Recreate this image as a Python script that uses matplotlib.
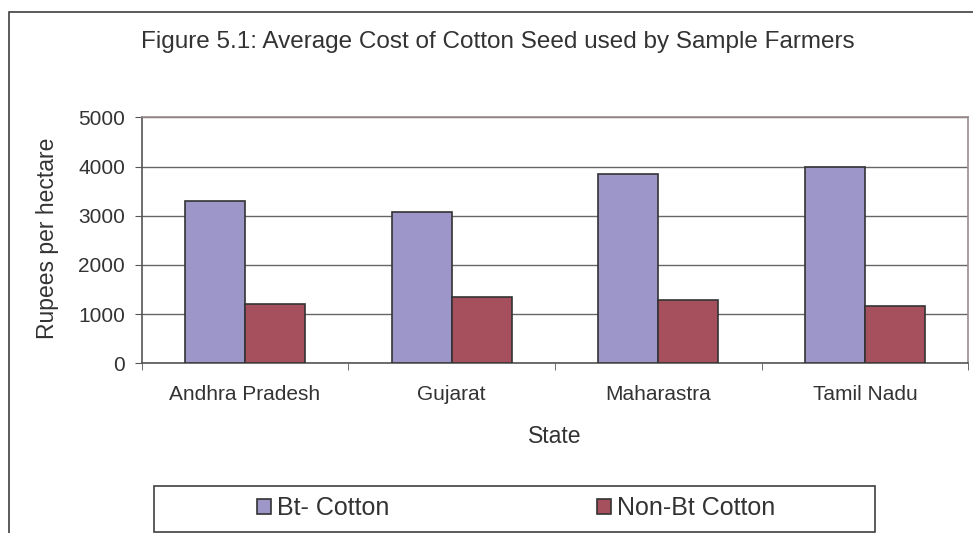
import matplotlib
matplotlib.use("Agg")
import matplotlib.pyplot as plt
from matplotlib.patches import Rectangle
import numpy as np

states = ["Andhra Pradesh", "Gujarat", "Maharastra", "Tamil Nadu"]
bt_cotton = [3290, 3080, 3850, 3980]
non_bt_cotton = [1210, 1340, 1290, 1170]
series_names = ["Bt- Cotton", "Non-Bt Cotton"]
y_ticks = [0, 1000, 2000, 3000, 4000, 5000]

plt.rcParams["font.family"] = ["Liberation Sans", "DejaVu Sans"]
text_col = "#333333"
W, H = 973, 533

fig = plt.figure(figsize=(W / 100, H / 100), dpi=100)
ax = fig.add_axes([141.7 / W, 1 - 363.3 / H, (968.3 - 141.7) / W, (363.3 - 117.3) / H])

x = np.arange(len(states))
bw = 0.29
ax.bar(x - bw / 2, bt_cotton, bw, color="#9D97C9", edgecolor="#333333", linewidth=1.2,
       label=series_names[0], zorder=3)
ax.bar(x + bw / 2, non_bt_cotton, bw, color="#A5505C", edgecolor="#333333", linewidth=1.2,
       label=series_names[1], zorder=3)

ax.set_xlim(-0.5, len(states) - 0.5)
ax.set_ylim(0, 5000)
ax.set_yticks(y_ticks)
ax.set_yticklabels([str(v) for v in y_ticks], fontsize=15, color=text_col)
ax.set_xticks(x)
ax.set_xticklabels(states, fontsize=15, color=text_col)
ax.set_xticks(np.arange(-0.5, len(states)), minor=True)
ax.tick_params(axis="x", which="major", length=0, pad=15.5)
ax.tick_params(axis="x", which="minor", length=5, direction="out", color="#555555")
ax.tick_params(axis="y", length=5, direction="out", color="#555555", pad=7)

ax.grid(axis="y", color="#666666", linewidth=1.0, zorder=0)
ax.set_axisbelow(True)
for side in ["left", "bottom"]:
    ax.spines[side].set_color("#555555")
    ax.spines[side].set_linewidth(1.2)
for side in ["top", "right"]:
    ax.spines[side].set_color("#9a8c8c")
    ax.spines[side].set_linewidth(1.2)

fig.text(497.5 / W, 1 - 42 / H, "Figure 5.1: Average Cost of Cotton Seed used by Sample Farmers",
         fontsize=17.5, color=text_col, ha="center", va="center")
fig.text(48 / W, 1 - 238 / H, "Rupees per hectare", fontsize=16.5, color=text_col,
         rotation=90, ha="center", va="center")
fig.text(555 / W, 1 - 436.7 / H, "State", fontsize=16.5, color=text_col,
         ha="center", va="center")

# outer chart frame (right and bottom edges fall outside the canvas)
fig.patches.append(Rectangle((9 / W, -0.1), 1.2, 1 - 11.7 / H + 0.1, transform=fig.transFigure,
                             fill=False, edgecolor="#404040", linewidth=1.2))
# legend frame
fig.patches.append(Rectangle((154 / W, 1.3 / H), (875 - 154) / W, 45.5 / H,
                             transform=fig.transFigure, fill=False, edgecolor="#404040",
                             linewidth=1.2))

handles, labels = ax.get_legend_handles_labels()
fig.legend(handles, labels, loc="center left", bbox_to_anchor=(257 / W, 1 - 508 / H),
           ncol=2, frameon=False, fontsize=18, borderpad=0, borderaxespad=0,
           handlelength=0.56, handleheight=0.56, handletextpad=0.25, columnspacing=8.3,
           labelcolor=text_col)

fig.savefig("out.png", dpi=100)
